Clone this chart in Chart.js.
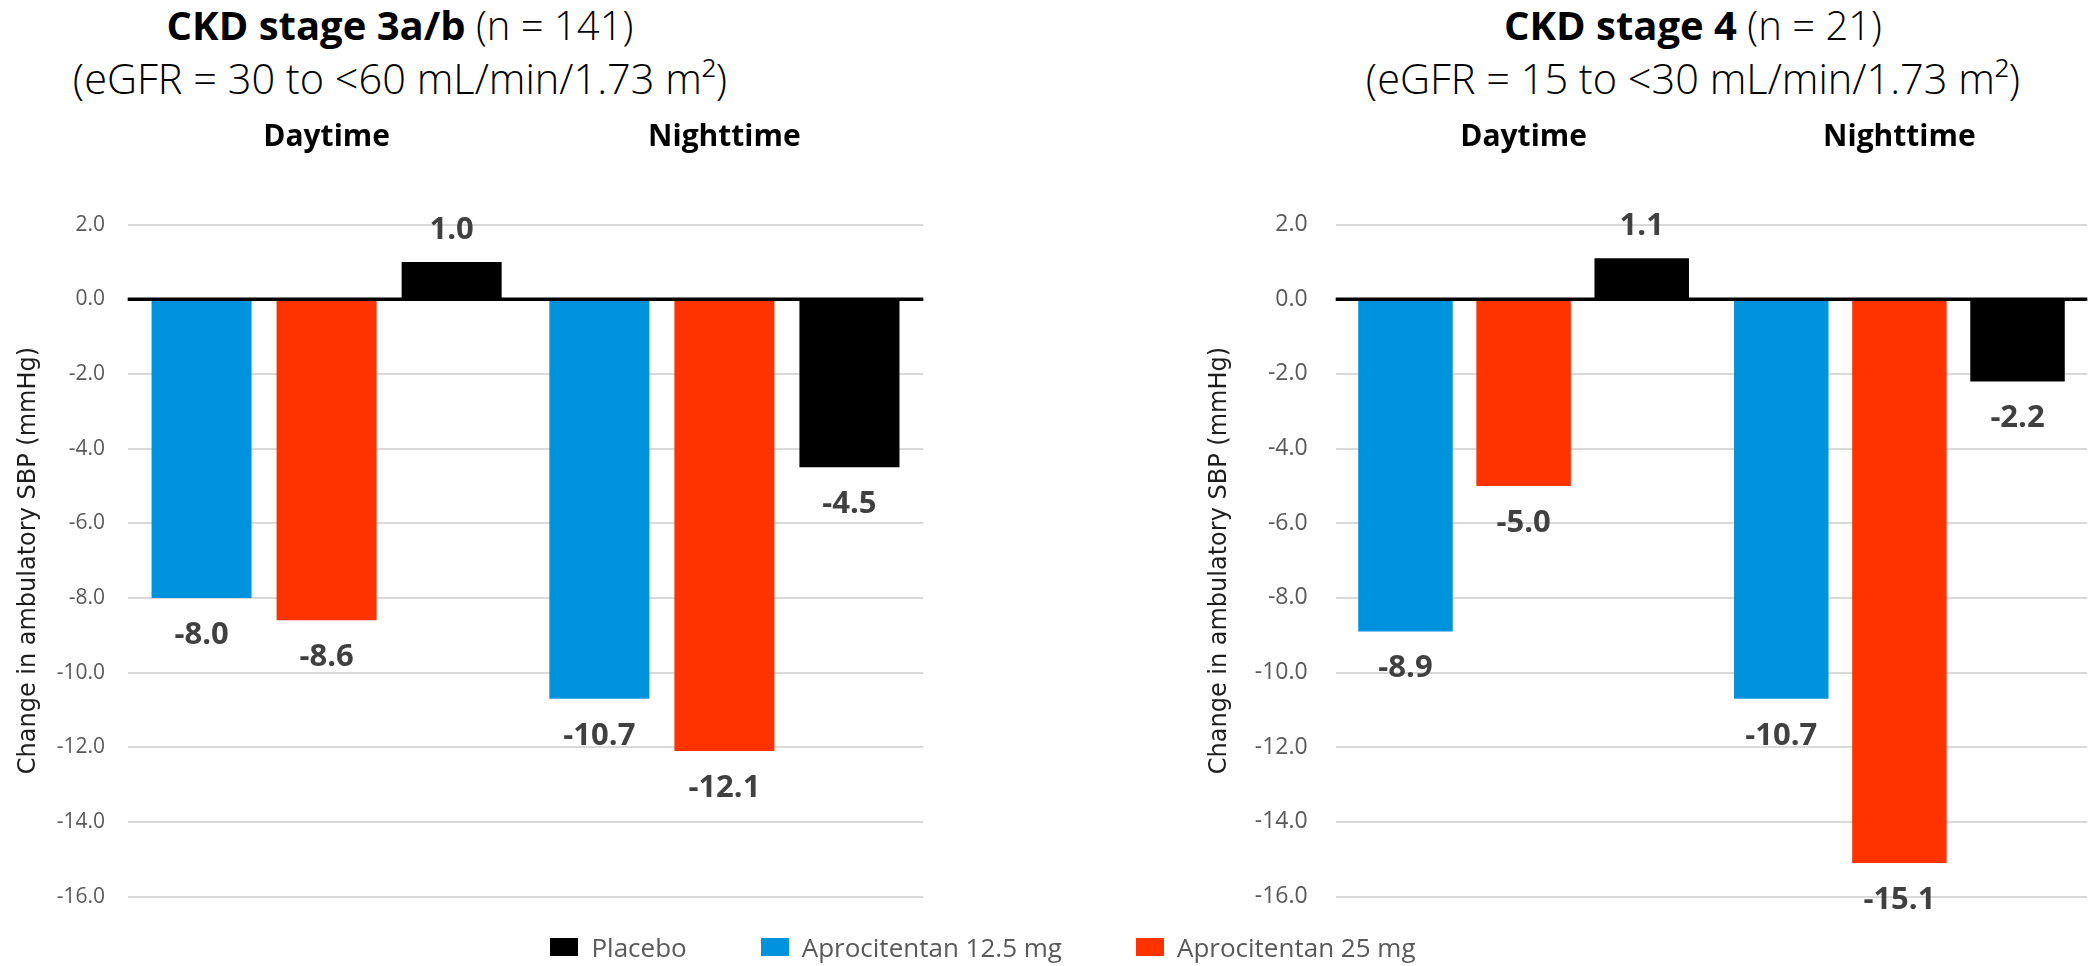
<!DOCTYPE html>
<html>
<head>
<meta charset="utf-8">
<title>Ambulatory SBP change by CKD stage</title>
<script src="https://cdn.jsdelivr.net/npm/chart.js@4/dist/chart.umd.min.js"></script>
<style>
  html, body { margin: 0; padding: 0; background: #fff; }
  body { width: 2091px; height: 966px; position: relative; overflow: hidden; font-family: "Open Sans", sans-serif; }
  canvas { position: absolute; top: 0; }
  #chartStage3 { left: 0; }
  #chartStage4 { left: 1180px; }
  .head { position: absolute; width: 800px; text-align: center; white-space: nowrap; color: #000; }
  .head .l1 { position: absolute; left: 0; right: 0; top: 1px; font-size: 40px; line-height: 48px; font-weight: 300; }
  .head .l1 b { font-weight: 700; }
  .head .l2 { position: absolute; left: 0; right: 0; top: 54px; font-size: 41.5px; line-height: 48px; font-weight: 300; }
  #headStage3 { left: 0; top: 0; }
  #headStage4 { left: 1293px; top: 0; }
  #legend { position: absolute; left: 0; width: 1966px; top: 930px; height: 34px; display: flex; justify-content: center; align-items: center; gap: 74px; }
  #legend .item { display: flex; align-items: center; gap: 13px; font-size: 26px; color: #595959; }
  #legend .swatch { width: 28px; height: 18px; display: inline-block; }
</style>
</head>
<body>
<div class="head" id="headStage3">
  <div class="l1"><b>CKD stage 3a/b</b> (n = 141)</div>
  <div class="l2">(eGFR = 30 to &lt;60 mL/min/1.73 m²)</div>
</div>
<div class="head" id="headStage4">
  <div class="l1"><b>CKD stage 4</b> (n = 21)</div>
  <div class="l2">(eGFR = 15 to &lt;30 mL/min/1.73 m²)</div>
</div>
<canvas id="chartStage3" width="930" height="966"></canvas>
<canvas id="chartStage4" width="911" height="966"></canvas>
<div id="legend"></div>

<script>
// Period categories shown above each panel
const categories = ['Daytime', 'Nighttime'];

// Treatment arms, in bar order within each period
const armNames = ['Aprocitentan 12.5 mg', 'Aprocitentan 25 mg', 'Placebo'];
const armColors = ['#0093DD', '#FF3300', '#000000'];

// Change in ambulatory SBP (mmHg), CKD stage 3a/b
const stage3Dose12 = [-8.0, -10.7];
const stage3Dose25 = [-8.6, -12.1];
const stage3Placebo = [1.0, -4.5];

// Change in ambulatory SBP (mmHg), CKD stage 4
const stage4Dose12 = [-8.9, -10.7];
const stage4Dose25 = [-5.0, -15.1];
const stage4Placebo = [1.1, -2.2];

// Value axis range and tick spacing
const yMin = -16;
const yMax = 2;
const yStep = 2;

// Legend order
const legendOrder = ['Placebo', 'Aprocitentan 12.5 mg', 'Aprocitentan 25 mg'];

const yTitle = 'Change in ambulatory SBP (mmHg)';

// Heavy black line along the zero value
const zeroLine = {
  id: 'zeroLine',
  afterDatasetsDraw(chart) {
    const { ctx, chartArea, scales } = chart;
    const y = scales.y.getPixelForValue(0);
    ctx.save();
    ctx.strokeStyle = '#000';
    ctx.lineWidth = 3.3;
    ctx.beginPath();
    ctx.moveTo(chartArea.left, y);
    ctx.lineTo(chartArea.right, y);
    ctx.stroke();
    ctx.restore();
  }
};

// Value labels just beyond the end of each bar
const valueLabels = {
  id: 'valueLabels',
  afterDatasetsDraw(chart) {
    const { ctx } = chart;
    ctx.save();
    ctx.font = 'bold 31px "Open Sans", sans-serif';
    ctx.fillStyle = '#404040';
    ctx.textAlign = 'center';
    ctx.textBaseline = 'middle';
    chart.data.datasets.forEach((ds, i) => {
      chart.getDatasetMeta(i).data.forEach((bar, j) => {
        const v = ds.data[j];
        const y = v >= 0 ? bar.y - 32 : bar.y + 37;
        ctx.fillText(v.toFixed(1), bar.x, y);
      });
    });
    ctx.restore();
  }
};

function buildChart(id, series, layout) {
  const datasets = series.map((values, i) => ({
    label: armNames[i],
    data: values,
    backgroundColor: armColors[i],
    borderWidth: 0,
    barPercentage: 0.8,
    categoryPercentage: 0.943
  }));

  return new Chart(document.getElementById(id), {
    type: 'bar',
    data: { labels: categories, datasets },
    options: {
      responsive: false,
      animation: false,
      layout: { padding: { top: 50, right: layout.right, bottom: 69.4, left: 0 } },
      plugins: { legend: { display: false }, tooltip: { enabled: false } },
      scales: {
        x: {
          position: 'top',
          grid: { display: false, drawTicks: false },
          border: { display: false },
          ticks: {
            padding: 69.3,
            color: '#000',
            font: { family: '"Open Sans", sans-serif', size: 30, weight: 'bold' }
          }
        },
        y: {
          min: yMin,
          max: yMax,
          afterFit(scale) { scale.width = layout.axisWidth; },
          grid: { color: '#d9d9d9', lineWidth: 2, drawTicks: false },
          border: { display: false },
          ticks: {
            stepSize: yStep,
            padding: layout.tickPad,
            color: '#595959',
            font: { family: '"Open Sans", sans-serif', size: layout.tickSize },
            callback: v => v.toFixed(1)
          },
          title: {
            display: true,
            text: yTitle,
            color: '#1e1e1e',
            padding: { top: layout.titlePad, bottom: 0 },
            font: { family: '"DejaVu Sans", sans-serif', size: 24 }
          }
        }
      }
    },
    plugins: [zeroLine, valueLabels]
  });
}

buildChart('chartStage3', [stage3Dose12, stage3Dose25, stage3Placebo],
  { right: 6.7, axisWidth: 127.7, tickPad: 22.7, tickSize: 21, titlePad: 14.6 });
buildChart('chartStage4', [stage4Dose12, stage4Dose25, stage4Placebo],
  { right: 3.7, axisWidth: 155.7, tickPad: 28, tickSize: 23, titlePad: 25.6 });

// Shared legend
const legend = document.getElementById('legend');
legendOrder.forEach(name => {
  const item = document.createElement('span');
  item.className = 'item';
  const sw = document.createElement('span');
  sw.className = 'swatch';
  sw.style.background = armColors[armNames.indexOf(name)];
  const txt = document.createElement('span');
  txt.textContent = name;
  item.appendChild(sw);
  item.appendChild(txt);
  legend.appendChild(item);
});
</script>
</body>
</html>
